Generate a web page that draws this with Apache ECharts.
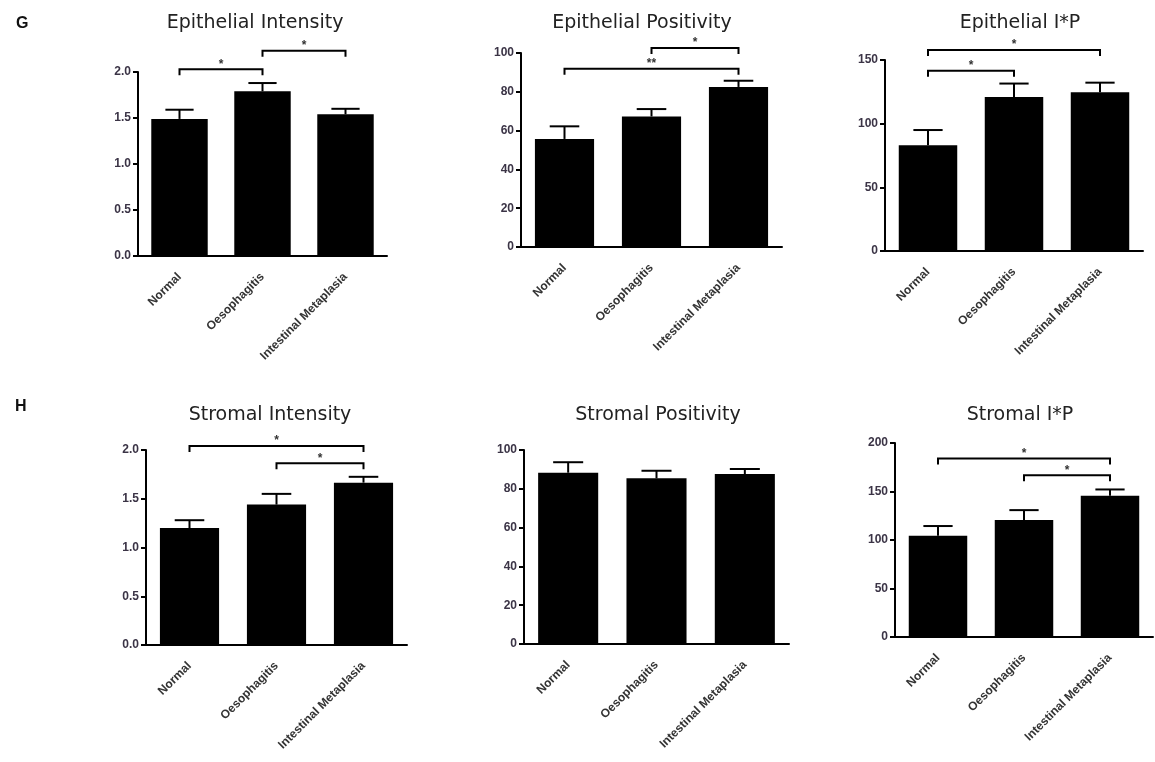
<!DOCTYPE html>
<html>
<head>
<meta charset="utf-8">
<script src="https://cdn.jsdelivr.net/npm/echarts@6/dist/echarts.min.js"></script>
<style>html,body{margin:0;padding:0;background:#fff;}#c{width:1155px;height:762px;}</style>
</head>
<body>
<div id="c"></div>
<script>
var categories = ['Normal', 'Oesophagitis', 'Intestinal Metaplasia'];

var epiIntMean = [1.49, 1.79, 1.54];
var epiIntSem  = [0.10, 0.09, 0.06];
var epiPosMean = [55.7, 67.3, 82.5];
var epiPosSem  = [6.5, 3.8, 3.2];
var epiIPMean  = [83, 121, 124.6];
var epiIPSem   = [12, 10.5, 7.6];
var strIntMean = [1.20, 1.44, 1.665];
var strIntSem  = [0.08, 0.11, 0.06];
var strPosMean = [88.3, 85.4, 87.6];
var strPosSem  = [5.4, 3.9, 2.6];
var strIPMean  = [104.4, 120.6, 145.5];
var strIPSem   = [10, 10.2, 6.6];

// significance brackets: [fromCategory, toCategory, yValue, label]
var epiIntSig = [[0, 1, 2.03, '*'], [1, 2, 2.23, '*']];
var epiPosSig = [[0, 2, 91.9, '**'], [1, 2, 102.6, '*']];
var epiIPSig  = [[0, 1, 141.6, '*'], [0, 2, 157.9, '*']];
var strIntSig = [[0, 2, 2.04, '*'], [1, 2, 1.864, '*']];
var strPosSig = [];
var strIPSig  = [[0, 2, 184, '*'], [1, 2, 166.8, '*']];

var titles = ['Epithelial Intensity', 'Epithelial Positivity', 'Epithelial I*P',
              'Stromal Intensity', 'Stromal Positivity', 'Stromal I*P'];
var yMax = [2.0, 100, 150, 2.0, 100, 200];
var yInterval = [0.5, 20, 50, 0.5, 20, 50];
var yDecimals = [1, 0, 0, 1, 0, 0];

var means = [epiIntMean, epiPosMean, epiIPMean, strIntMean, strPosMean, strIPMean];
var sems = [epiIntSem, epiPosSem, epiIPSem, strIntSem, strPosSem, strIPSem];
var sigs = [epiIntSig, epiPosSig, epiIPSig, strIntSig, strPosSig, strIPSig];

var grids = [
  {left: 138, top: 72, width: 249, height: 184},
  {left: 521, top: 53, width: 261, height: 194},
  {left: 885, top: 60, width: 258, height: 191},
  {left: 146, top: 450, width: 261, height: 195},
  {left: 524, top: 450, width: 265, height: 194},
  {left: 895, top: 443, width: 258, height: 194}
];
var titlePos = [[250, 9], [637, 9], [1015, 9], [265, 401], [653, 401], [1015, 401]];

var BAR_FRAC = 0.68;
var FONT = 'Liberation Sans, Arial, sans-serif';

var option = {
  animation: false,
  backgroundColor: '#fff',
  title: [],
  grid: [],
  xAxis: [],
  yAxis: [],
  series: []
};

option.title.push({text: 'G', left: 11, top: 11, textStyle: {fontFamily: FONT, fontSize: 16, fontWeight: 'bold', color: '#111'}});
option.title.push({text: 'H', left: 10, top: 394, textStyle: {fontFamily: FONT, fontSize: 16, fontWeight: 'bold', color: '#111'}});

for (var k = 0; k < 6; k++) {
  (function (k) {
    option.title.push({
      text: titles[k], left: titlePos[k][0], top: titlePos[k][1], textAlign: 'center',
      textStyle: {fontFamily: 'DejaVu Sans, sans-serif', fontSize: 19, fontWeight: 'normal', color: '#222'}
    });
    option.grid.push(Object.assign({containLabel: false}, grids[k]));
    option.xAxis.push({
      type: 'category', gridIndex: k, data: categories,
      axisLine: {lineStyle: {color: '#000', width: 2}},
      axisTick: {alignWithLabel: true, length: 5, lineStyle: {color: '#000', width: 2}},
      axisLabel: {interval: 0, rotate: 45, margin: 19, fontSize: 12, fontWeight: 'bold',
                  fontFamily: FONT, color: '#333'},
      splitLine: {show: false}
    });
    option.yAxis.push({
      type: 'value', gridIndex: k, min: 0, max: yMax[k], interval: yInterval[k],
      axisLine: {show: true, lineStyle: {color: '#000', width: 2}},
      axisTick: {show: true, length: 5, lineStyle: {color: '#000', width: 2}},
      axisLabel: {margin: 7, fontSize: 12, fontWeight: 'bold', fontFamily: FONT,
                  color: '#3b3446', formatter: function (v) { return v.toFixed(yDecimals[k]); }},
      splitLine: {show: false}
    });
    option.series.push({
      type: 'bar', xAxisIndex: k, yAxisIndex: k, data: means[k],
      barWidth: (BAR_FRAC * 100) + '%',
      itemStyle: {color: '#000'}, z: 2
    });
    option.series.push({
      type: 'custom', xAxisIndex: k, yAxisIndex: k, z: 3, clip: false,
      data: means[k].map(function (m, i) { return [i, m, sems[k][i]]; }),
      encode: {x: 0, y: 1},
      renderItem: function (params, api) {
        var i = api.value(0), m = api.value(1), s = api.value(2);
        var base = api.coord([i, m]);
        var top = api.coord([i, m + s]);
        var bw = api.size([1, 0])[0] * BAR_FRAC;
        var hw = bw / 4;
        var st = {stroke: '#000', lineWidth: 2, fill: null};
        return {type: 'group', children: [
          {type: 'line', shape: {x1: base[0], y1: base[1], x2: top[0], y2: top[1]}, style: st},
          {type: 'line', shape: {x1: top[0] - hw, y1: top[1], x2: top[0] + hw, y2: top[1]}, style: st}
        ]};
      }
    });
    if (sigs[k].length) {
      option.series.push({
        type: 'custom', xAxisIndex: k, yAxisIndex: k, z: 4, clip: false,
        data: sigs[k].map(function (d) { return [d[0], d[2], d[1]]; }),
        encode: {x: 0, y: 1},
        renderItem: function (params, api) {
          var a = api.value(0), y = api.value(1), b = api.value(2);
          var p1 = api.coord([a, y]);
          var p2 = api.coord([b, y]);
          var leg = 6;
          var label = sigs[k][params.dataIndex][3];
          return {type: 'group', children: [
            {type: 'polyline', shape: {points: [[p1[0], p1[1] + leg], [p1[0], p1[1]], [p2[0], p2[1]], [p2[0], p2[1] + leg]]},
             style: {stroke: '#000', lineWidth: 2, fill: null}},
            {type: 'text', style: {text: label, x: (p1[0] + p2[0]) / 2, y: p1[1] + 1,
              textAlign: 'center', textVerticalAlign: 'bottom', fontSize: 12, fontWeight: 'bold',
              fontFamily: FONT, fill: '#333'}}
          ]};
        }
      });
    }
  })(k);
}

var chart = echarts.init(document.getElementById('c'), null, {renderer: 'canvas'});
chart.setOption(option);
</script>
</body>
</html>
